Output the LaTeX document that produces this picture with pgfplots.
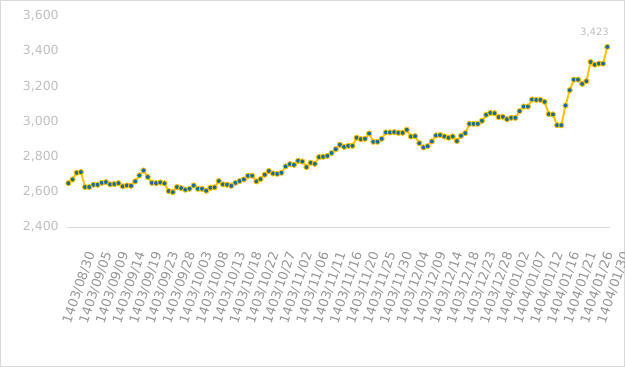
\documentclass[border=0pt]{standalone}
\usepackage{fontspec}
\setmainfont{DejaVu Sans}
\usepackage{pgfplots}
\usepackage{pgfplotstable}
\pgfplotsset{compat=1.18}
\definecolor{gold}{HTML}{FFC000}
\definecolor{dotblue}{RGB}{17,110,155}
\definecolor{ylab}{HTML}{BFBFBF}
\definecolor{xlab}{HTML}{969696}
\definecolor{gridc}{HTML}{D9D9D9}
\pgfplotstableread{
x y
0 2649
1 2670
2 2708
3 2712
4 2627
5 2627
6 2640
7 2640
8 2651
9 2655
10 2642
11 2644
12 2649
13 2631
14 2636
15 2634
16 2659
17 2693
18 2721
19 2684
20 2651
21 2649
22 2653
23 2648
24 2604
25 2598
26 2627
27 2621
28 2612
29 2617
30 2636
31 2617
32 2617
33 2606
34 2623
35 2625
36 2661
37 2642
38 2640
39 2634
40 2651
41 2661
42 2670
43 2691
44 2691
45 2659
46 2672
47 2697
48 2718
49 2704
50 2702
51 2708
52 2744
53 2757
54 2753
55 2776
56 2772
57 2740
58 2765
59 2759
60 2797
61 2799
62 2804
63 2820
64 2842
65 2867
66 2855
67 2861
68 2861
69 2907
70 2899
71 2901
72 2931
73 2884
74 2884
75 2901
76 2937
77 2937
78 2939
79 2935
80 2935
81 2952
82 2914
83 2916
84 2876
85 2852
86 2859
87 2886
88 2920
89 2922
90 2914
91 2907
92 2914
93 2888
94 2918
95 2933
96 2986
97 2986
98 2986
99 3003
100 3037
101 3048
102 3046
103 3024
104 3026
105 3012
106 3020
107 3020
108 3058
109 3084
110 3084
111 3124
112 3122
113 3122
114 3111
115 3041
116 3039
117 2978
118 2978
119 3090
120 3177
121 3237
122 3237
123 3213
124 3228
125 3337
126 3322
127 3328
128 3328
129 3423
}\datatable
\begin{document}
\begin{tikzpicture}[x=1pt,y=1pt]
\useasboundingbox (0,0) rectangle (625,367);
\draw[gridc, line width=0.8pt] (0.5,0.5) rectangle (624.5,366.5);
\begin{axis}[
  at={(66.7pt,140pt)}, anchor=south west,
  scale only axis, width=543.3pt, height=211.3pt,
  xmin=-0.4, xmax=129.65, ymin=2400, ymax=3600,
  axis lines*=left,
  axis line style={-},
  x axis line style={draw=gridc, line width=0.8pt},
  y axis line style={draw=none},
  major tick length=0pt,
  ytick={2400,2600,...,3600},
  xtick={0,4,...,128},
  xticklabels={1403/08/30,1403/09/05,1403/09/09,1403/09/14,1403/09/19,1403/09/23,1403/09/28,1403/10/03,1403/10/08,1403/10/13,1403/10/18,1403/10/22,1403/10/27,1403/11/02,1403/11/06,1403/11/11,1403/11/16,1403/11/20,1403/11/25,1403/11/30,1403/12/04,1403/12/09,1403/12/14,1403/12/18,1403/12/23,1403/12/28,1404/01/02,1404/01/07,1404/01/12,1404/01/16,1404/01/21,1404/01/26,1404/01/30},
  yticklabel style={text=ylab, font=\fontsize{12.5}{14}\selectfont, anchor=east, xshift=-4.5pt},
  xticklabel style={text=xlab, font=\fontsize{13}{15}\selectfont, xshift=10.5pt, yshift=-60.5pt, rotate=71, anchor=center},
  /pgf/number format/.cd, 1000 sep={,}, assume math mode=true,
  /pgfplots/.cd,
  clip mode=individual,
]
\addplot[gold, line width=1.9pt, mark=*, mark size=2.6pt,
  mark options={fill=dotblue, draw=gold, line width=0.9pt}] table[x=x,y=y] {\datatable};
\addplot[draw=none, mark=none, forget plot, point meta=y, nodes near coords,
  nodes near coords style={text=ylab, font=\fontsize{10}{12}\selectfont, anchor=south east, inner sep=0pt, xshift=1.7pt, yshift=10pt}]
  coordinates {(129,3423)};
\end{axis}
\end{tikzpicture}
\end{document}
